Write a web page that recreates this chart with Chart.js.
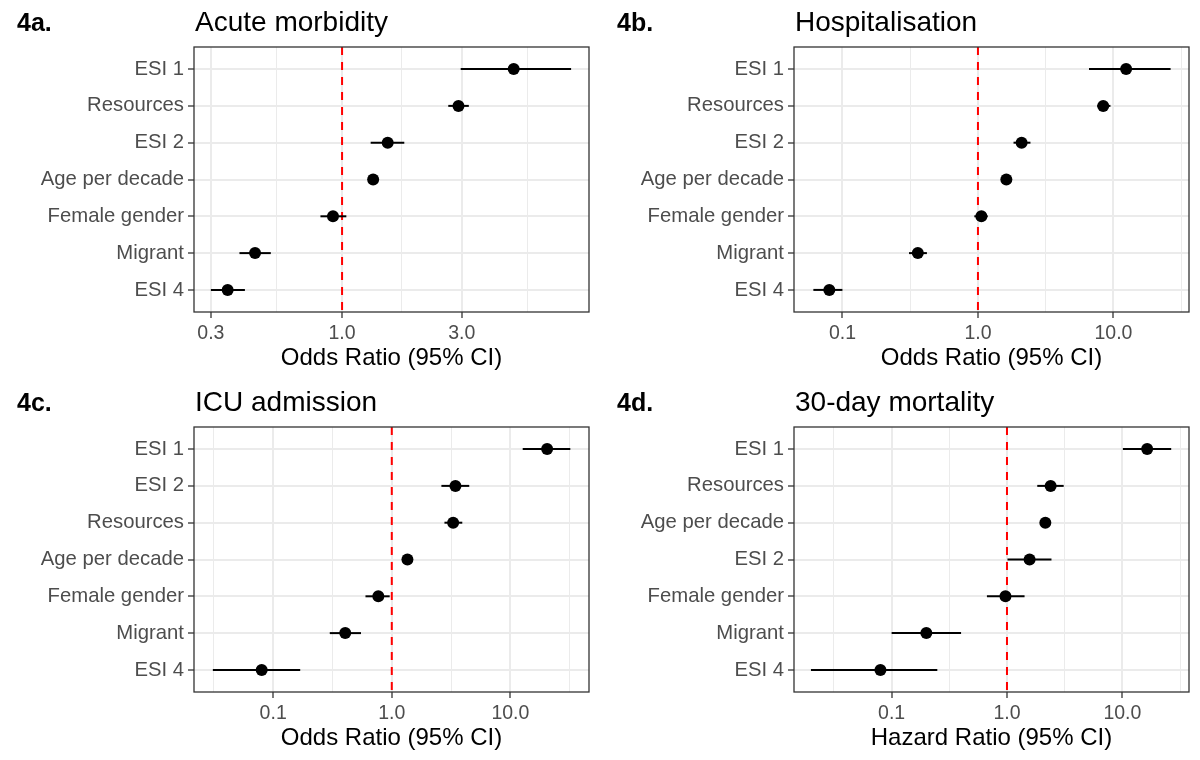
<!DOCTYPE html>
<html>
<head>
<meta charset="utf-8">
<script src="https://cdn.jsdelivr.net/npm/chart.js@4.4.1/dist/chart.umd.min.js"></script>
<style>
  body { margin: 0; background: #fff; font-family: "Liberation Sans", Arial, sans-serif; }
  #wrap { position: relative; width: 1200px; height: 760px; overflow: hidden; }
  .panel { position: absolute; width: 600px; height: 380px; }
  .panel canvas { position: absolute; left: 0; top: 0; }
  .tag { position: absolute; left: 17px; top: 10px; font-size: 25px; line-height: 1; font-weight: bold; color: #000; }
  .title { position: absolute; left: 195px; top: 8px; font-size: 28px; line-height: 1; color: #000; white-space: nowrap; }
</style>
</head>
<body>
<div id="wrap">
  <div class="panel" style="left:0;top:0"><canvas id="cA" width="600" height="380"></canvas><div class="tag">4a.</div><div class="title">Acute morbidity</div></div>
  <div class="panel" style="left:600px;top:0"><canvas id="cB" width="600" height="380"></canvas><div class="tag">4b.</div><div class="title">Hospitalisation</div></div>
  <div class="panel" style="left:0;top:380px"><canvas id="cC" width="600" height="380"></canvas><div class="tag">4c.</div><div class="title">ICU admission</div></div>
  <div class="panel" style="left:600px;top:380px"><canvas id="cD" width="600" height="380"></canvas><div class="tag">4d.</div><div class="title">30-day mortality</div></div>
</div>
<script>
// 4a. Acute morbidity (top to bottom)
const catsA = ['ESI 1', 'Resources', 'ESI 2', 'Age per decade', 'Female gender', 'Migrant', 'ESI 4'];
const orA = [4.83, 2.91, 1.52, 1.33, 0.92, 0.45, 0.35];
const loA = [2.97, 2.65, 1.30, 1.30, 0.82, 0.39, 0.30];
const hiA = [8.18, 3.20, 1.77, 1.36, 1.04, 0.52, 0.41];
const ticksA = [0.3, 1, 3];
const tickLabelsA = ['0.3', '1.0', '3.0'];
const minorA = [0.548, 1.732, 5.477];
const rangeA = [0.257, 9.64];

// 4b. Hospitalisation
const catsB = ['ESI 1', 'Resources', 'ESI 2', 'Age per decade', 'Female gender', 'Migrant', 'ESI 4'];
const orB = [12.4, 8.4, 2.10, 1.62, 1.06, 0.36, 0.080];
const loB = [6.6, 7.6, 1.83, 1.56, 0.94, 0.31, 0.061];
const hiB = [26.4, 9.5, 2.44, 1.68, 1.18, 0.42, 0.100];
const ticksB = [0.1, 1, 10];
const tickLabelsB = ['0.1', '1.0', '10.0'];
const minorB = [0.316, 3.162, 31.62];
const rangeB = [0.0439, 36.1];

// 4c. ICU admission
const catsC = ['ESI 1', 'ESI 2', 'Resources', 'Age per decade', 'Female gender', 'Migrant', 'ESI 4'];
const orC = [20.4, 3.44, 3.29, 1.355, 0.77, 0.405, 0.080];
const loC = [12.7, 2.62, 2.78, 1.30, 0.60, 0.30, 0.031];
const hiC = [32.0, 4.50, 3.93, 1.41, 0.96, 0.55, 0.169];
const ticksC = [0.1, 1, 10];
const tickLabelsC = ['0.1', '1.0', '10.0'];
const minorC = [0.0316, 0.316, 3.162, 31.62];
const rangeC = [0.0215, 46.0];

// 4d. 30-day mortality
const catsD = ['ESI 1', 'Resources', 'Age per decade', 'ESI 2', 'Female gender', 'Migrant', 'ESI 4'];
const orD = [16.4, 2.39, 2.15, 1.57, 0.97, 0.20, 0.080];
const loD = [10.1, 1.83, 1.95, 1.01, 0.67, 0.10, 0.020];
const hiD = [26.5, 3.10, 2.40, 2.43, 1.42, 0.40, 0.249];
const ticksD = [0.1, 1, 10];
const tickLabelsD = ['0.1', '1.0', '10.0'];
const minorD = [0.0316, 0.316, 3.162, 31.62];
const rangeD = [0.01426, 37.8];

const REF_X = 1;
const FONT = '"Liberation Sans", Arial, sans-serif';

const refLine = {
    id: 'refLine',
    beforeDatasetsDraw(chart) {
        const ctx = chart.ctx;
        const a = chart.chartArea;
        const x = chart.scales.x.getPixelForValue(REF_X);
        ctx.save();
        ctx.strokeStyle = '#ff0000';
        ctx.lineWidth = 2;
        ctx.setLineDash([8, 7]);
        ctx.beginPath();
        ctx.moveTo(x, a.top);
        ctx.lineTo(x, a.bottom);
        ctx.stroke();
        ctx.restore();
    }
};

const panelBorder = {
    id: 'panelBorder',
    afterDraw(chart) {
        const ctx = chart.ctx;
        const a = chart.chartArea;
        ctx.save();
        ctx.strokeStyle = '#333333';
        ctx.lineWidth = 1.3;
        ctx.strokeRect(a.left, a.top, a.right - a.left, a.bottom - a.top);
        ctx.restore();
    }
};

function makePanel(id, cats, or, lo, hi, ticks, tickLabels, minor, range, xTitle) {
    const datasets = [{
        data: or.map((v, i) => ({ x: v, y: i })),
        pointRadius: 6,
        pointBackgroundColor: '#000',
        pointBorderWidth: 0,
        showLine: false
    }];
    lo.forEach((v, i) => {
        datasets.push({
            data: [{ x: v, y: i }, { x: hi[i], y: i }],
            showLine: true,
            borderColor: '#000',
            borderWidth: 2,
            pointRadius: 0
        });
    });
    const allTicks = ticks.concat(minor).sort((a, b) => a - b);
    const isMajor = v => ticks.indexOf(v) >= 0;

    return new Chart(document.getElementById(id), {
        type: 'scatter',
        data: { datasets },
        options: {
            responsive: false,
            animation: false,
            layout: { padding: { left: 0, right: 11, top: 47, bottom: 0 } },
            plugins: { legend: { display: false }, tooltip: { enabled: false } },
            scales: {
                x: {
                    type: 'logarithmic',
                    position: 'bottom',
                    min: range[0],
                    max: range[1],
                    afterBuildTicks: s => { s.ticks = allTicks.map(v => ({ value: v })); },
                    afterFit: s => { s.height = 68; },
                    ticks: {
                        autoSkip: false,
                        maxRotation: 0,
                        padding: 4,
                        color: '#4d4d4d',
                        font: { family: FONT, size: 19.5 },
                        callback: v => { const k = ticks.indexOf(v); return k >= 0 ? tickLabels[k] : ''; }
                    },
                    grid: {
                        color: '#ebebeb',
                        lineWidth: c => (c.tick && isMajor(c.tick.value)) ? 2 : 1,
                        tickColor: c => (c.tick && isMajor(c.tick.value)) ? '#333333' : 'rgba(0,0,0,0)',
                        tickLength: 6,
                        tickWidth: 1.3
                    },
                    border: { display: false },
                    title: {
                        display: true,
                        text: xTitle,
                        color: '#000',
                        font: { family: FONT, size: 24 },
                        padding: { top: 0, bottom: 7 }
                    }
                },
                y: {
                    type: 'linear',
                    reverse: true,
                    min: -0.6,
                    max: 6.6,
                    afterBuildTicks: s => { s.ticks = cats.map((c, i) => ({ value: i })); },
                    afterFit: s => { s.width = 194; },
                    ticks: {
                        autoSkip: false,
                        padding: 4,
                        color: '#4d4d4d',
                        font: { family: FONT, size: 20.3 },
                        callback: v => cats[v]
                    },
                    grid: {
                        color: '#ebebeb',
                        lineWidth: 2,
                        tickColor: '#333333',
                        tickLength: 6,
                        tickWidth: 1.3
                    },
                    border: { display: false }
                }
            }
        },
        plugins: [refLine, panelBorder]
    });
}

makePanel('cA', catsA, orA, loA, hiA, ticksA, tickLabelsA, minorA, rangeA, 'Odds Ratio (95% CI)');
makePanel('cB', catsB, orB, loB, hiB, ticksB, tickLabelsB, minorB, rangeB, 'Odds Ratio (95% CI)');
makePanel('cC', catsC, orC, loC, hiC, ticksC, tickLabelsC, minorC, rangeC, 'Odds Ratio (95% CI)');
makePanel('cD', catsD, orD, loD, hiD, ticksD, tickLabelsD, minorD, rangeD, 'Hazard Ratio (95% CI)');
</script>
</body>
</html>
